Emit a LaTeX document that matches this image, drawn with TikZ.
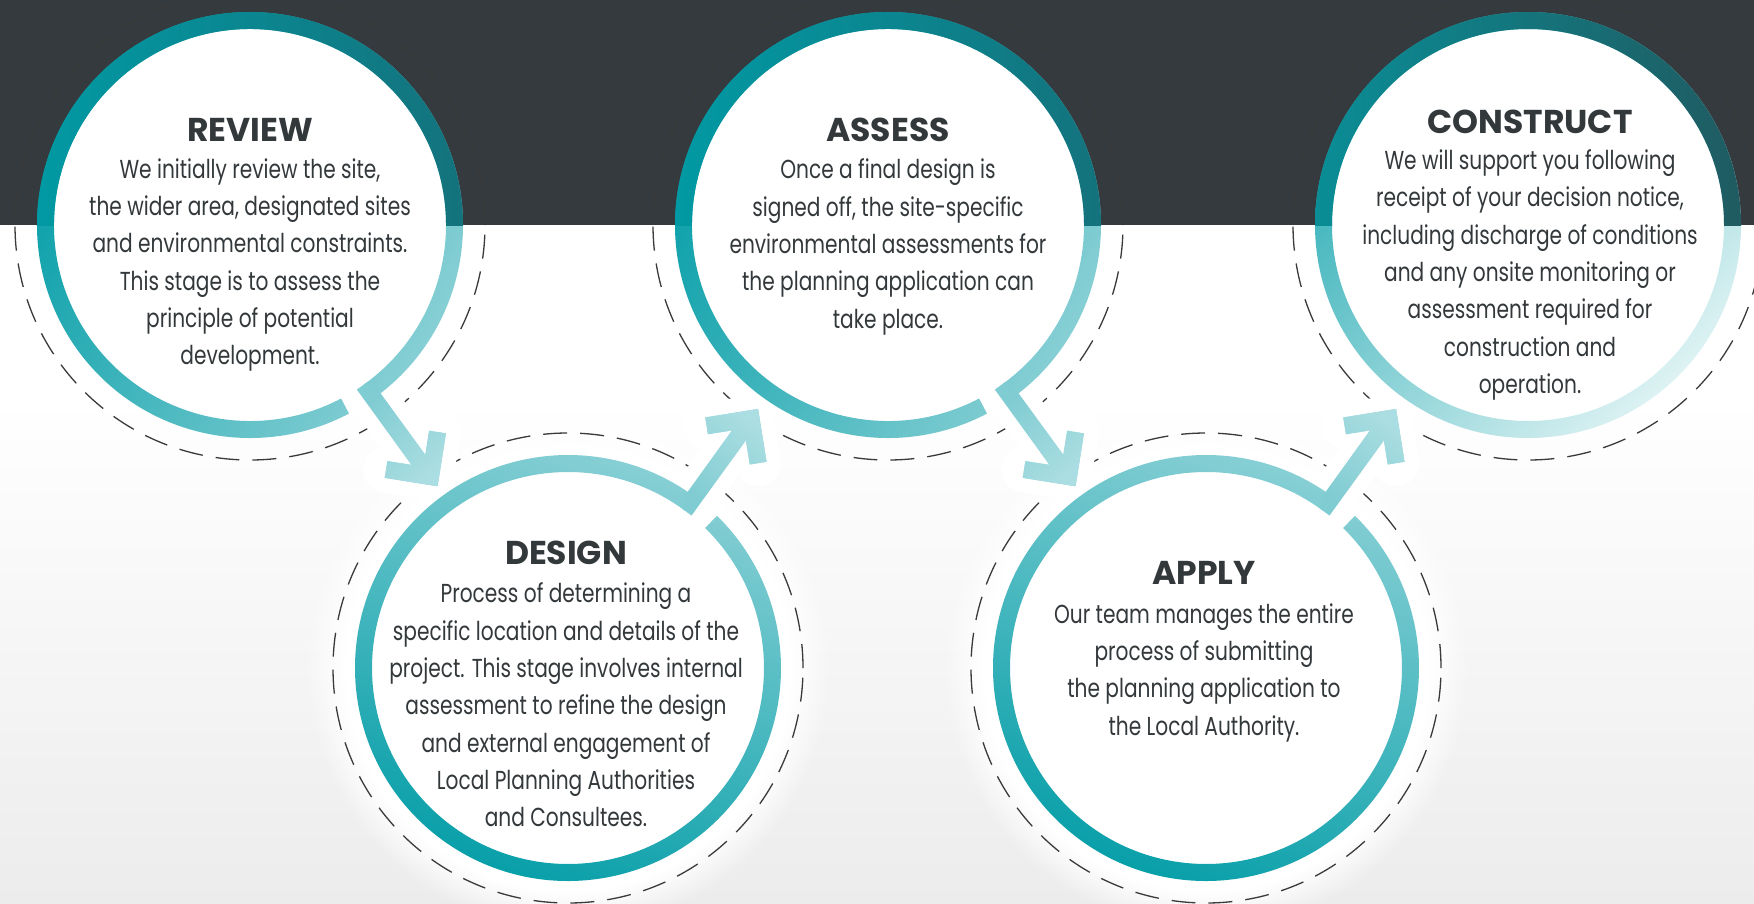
\documentclass[tikz,border=0pt]{standalone}
\usepackage{fontspec}
\setmainfont{Poppins}
\newfontfamily\bodyfont[FakeStretch=0.775]{Poppins}
\newfontfamily\headfont{Poppins}
\usetikzlibrary{calc,fadings}
\definecolor{band}{HTML}{343A3D}
\definecolor{ink}{HTML}{33383B}
\definecolor{tealD}{HTML}{009CA6}
\definecolor{tealL}{HTML}{8ED2D7}
\definecolor{tealB}{HTML}{15707A}
\definecolor{kD}{HTML}{0A8D96}
\definecolor{kB}{HTML}{1F5B61}
\definecolor{kM}{HTML}{2EAEB6}
\definecolor{kL}{HTML}{DDF2F3}
\definecolor{arrowA}{HTML}{7FCCD2}
\definecolor{arrowB}{HTML}{ABDEE2}
\definecolor{dashc}{HTML}{3A3A3A}
\definecolor{bgB}{HTML}{ECECEC}
\newcommand{\ringpath}[3]{($(#1)+(#2:213)$) arc[start angle=#2, end angle=#3, radius=213] -- ($(#1)+(#3:196)$) arc[start angle=#3, end angle=#2, radius=196] -- cycle}
\newcommand{\arrowpath}[3]{(s#1) arc[start angle=#2, end angle=#3, radius=204.5] -- (a#1) (h#1a) -- (a#1) -- (h#1b)}
\tikzset{
  dashring/.style={draw=dashc, line width=1.3pt, dash pattern=on 24pt off 13pt},
  arrowhalo/.style={draw=white, line width=46pt, line cap=round, line join=round},
  arrowbody/.style={draw=arrowA, line width=17pt, line join=miter, line cap=butt},
  title/.style={font=\headfont\bfseries\fontsize{33}{36}\selectfont, text=ink, inner sep=0pt},
  body/.style={font=\bodyfont\fontsize{26}{37.3}\selectfont, text=ink, align=center, inner sep=0pt},
}
\begin{document}
\begin{tikzpicture}[x=1pt,y=1pt]
\useasboundingbox (0,0) rectangle (1754,-903);
% background
\fill[white] (0,-225) rectangle (1754,-903);
\shade[top color=white, bottom color=bgB] (0,-400) rectangle (1754,-903);
\fill[band] (0,0) rectangle (1754,-225);
% centres
\coordinate (cR) at (250,-225);
\coordinate (cS) at (888,-225);
\coordinate (cK) at (1528,-225);
\coordinate (cD) at (568,-668);
\coordinate (cP) at (1206,-668);
% arrow geometry
\coordinate (j1) at ($(cR)+(-54.5:204.5)$);
\coordinate (s1) at ($(cR)+(-53.5:204.5)$);
\coordinate (a1) at (430.5,-476.5);
\coordinate (j2) at ($(cD)+(53.5:204.5)$);
\coordinate (s2) at ($(cD)+(54.5:204.5)$);
\coordinate (a2) at (751,-418.7);
\coordinate (j3) at ($(cS)+(-54.5:204.5)$);
\coordinate (s3) at ($(cS)+(-53.5:204.5)$);
\coordinate (a3) at (1068.5,-476.5);
\coordinate (j4) at ($(cP)+(53.5:204.5)$);
\coordinate (s4) at ($(cP)+(54.5:204.5)$);
\coordinate (a4) at (1389,-418.7);
\foreach \n in {1,2,3,4}{
  \coordinate (h\n a) at ($(a\n)!45pt!45:(j\n)$);
  \coordinate (h\n b) at ($(a\n)!45pt!-45:(j\n)$);
}
% glows
\foreach \c in {cD,cP}
  \fill[white, path fading=circle with fuzzy edge 15 percent] (\c) circle (262);
% dashed circles
\foreach \c in {cR,cS,cK,cD,cP}
  \draw[dashring] (\c) circle (235);
% arrow halos
\foreach \n/\s/\j in {1/-53.5/-54.5, 2/54.5/53.5, 3/-53.5/-54.5, 4/54.5/53.5}
  \draw[arrowhalo] \arrowpath{\n}{\s}{\j};
% interiors
\foreach \c in {cR,cS,cK,cD,cP}
  \fill[white] (\c) circle (205);
% rings
\shade[left color=tealD, right color=tealL, shading angle=60] \ringpath{cR}{-54.5}{297.7};
\shade[left color=tealD, right color=tealL, shading angle=60] \ringpath{cS}{-54.5}{297.7};
\shade[even odd rule, left color=kM, right color=kL, shading angle=45] (cK) circle (213) (cK) circle (196);
\shade[bottom color=tealD, top color=tealL, shading angle=-20] \ringpath{cD}{53.5}{405.6};
\shade[bottom color=tealD, top color=tealL, shading angle=-20] \ringpath{cP}{53.5}{405.6};
\begin{scope}
  \clip (0,0) rectangle (1754,-225);
  \shade[left color=tealD, right color=tealB] \ringpath{cR}{-54.5}{297.7};
  \shade[left color=tealD, right color=tealB] \ringpath{cS}{-54.5}{297.7};
  \shade[even odd rule, left color=kD, right color=kB] (cK) circle (213) (cK) circle (196);
\end{scope}
% arrows
\foreach \n/\s/\j/\fa in {1/-53.5/-54.5/-54, 2/54.5/53.5/54, 3/-53.5/-54.5/-54, 4/54.5/53.5/54}{
  \draw[arrowbody] \arrowpath{\n}{\s}{\j};
  \draw[arrowbody, draw=arrowB, path fading=west, fading angle=\fa] \arrowpath{\n}{\s}{\j};
}
% texts
\node[title] (tR) at (250,-130) {REVIEW};
\node[body] (bR) at (250,-265) {We initially review the site,\\the wider area, designated sites\\and environmental constraints.\\This stage is to assess the\\principle of potential\\development.};
\node[title] (tS) at (888,-130) {ASSESS};
\node[body] (bS) at (888,-247) {Once a final design is\\signed off, the site-specific\\environmental assessments for\\the planning application can\\take place.};
\node[title] (tK) at (1530,-122) {CONSTRUCT};
\node[body] (bK) at (1530,-275) {We will support you following\\receipt of your decision notice,\\including discharge of conditions\\and any onsite monitoring or\\assessment required for\\construction and\\operation.};
\node[title] (tD) at (566,-553) {DESIGN};
\node[body] (bD) at (566,-705) {Process of determining a\\specific location and details of the\\project. This stage involves internal\\assessment to refine the design\\and external engagement of\\Local Planning Authorities\\and Consultees.};
\node[title] (tP) at (1204,-573) {APPLY};
\node[body] (bP) at (1204,-672.5) {Our team manages the entire\\process of submitting\\the planning application to\\the Local Authority.};
\end{tikzpicture}
\end{document}
